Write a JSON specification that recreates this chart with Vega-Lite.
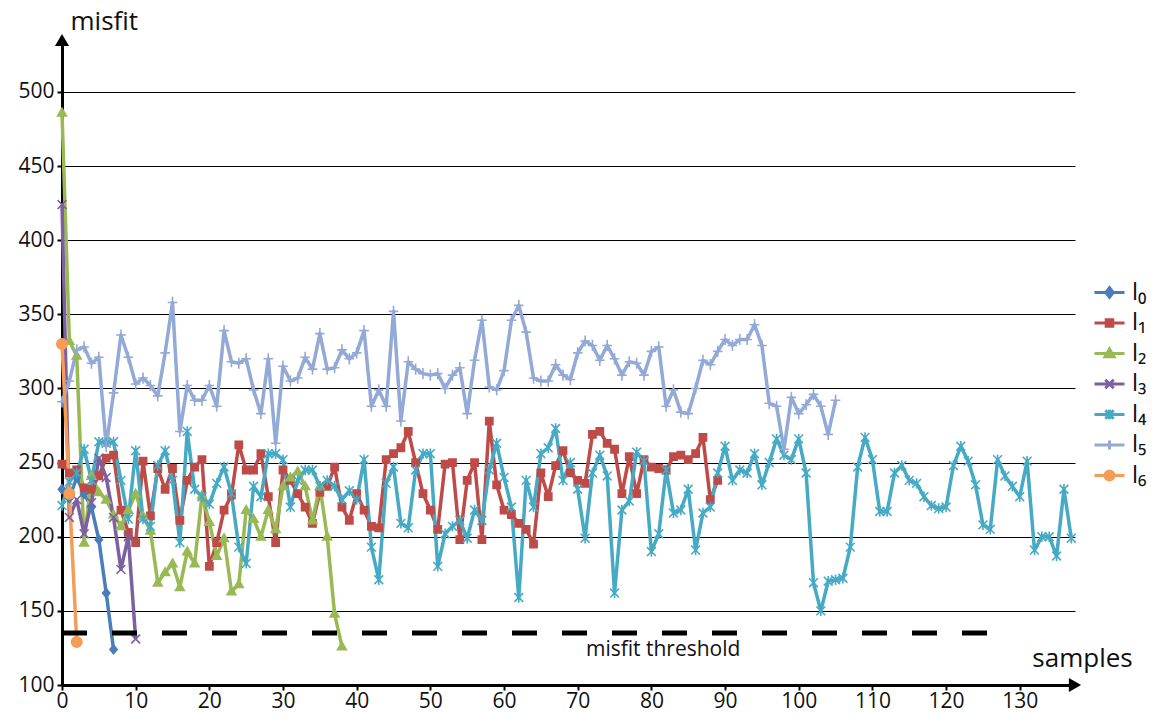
{
  "$schema": "https://vega.github.io/schema/vega-lite/v6.json",
  "width": 1013,
  "height": 645,
  "autosize": {"type": "none"},
  "padding": {"left": 62, "top": 40, "right": 78, "bottom": 28},
  "background": "white",
  "config": {
    "view": {"stroke": null},
    "font": "Open Sans",
    "axis": {"domainColor": "black", "tickColor": "black", "labelColor": "#111111", "titleColor": "#111111", "labelFont": "Open Sans", "titleFont": "Open Sans", "titleFontWeight": "normal"}
  },
  "data": {"values": [
    {"series":"l₀","sample":0,"misfit":232},{"series":"l₀","sample":1,"misfit":226},{"series":"l₀","sample":2,"misfit":240},{"series":"l₀","sample":3,"misfit":229},{"series":"l₀","sample":4,"misfit":220},{"series":"l₀","sample":5,"misfit":198},{"series":"l₀","sample":6,"misfit":162},{"series":"l₀","sample":7,"misfit":124},
    {"series":"l₁","sample":0,"misfit":249},{"series":"l₁","sample":1,"misfit":243},{"series":"l₁","sample":2,"misfit":245},{"series":"l₁","sample":3,"misfit":233},{"series":"l₁","sample":4,"misfit":232},{"series":"l₁","sample":5,"misfit":241},{"series":"l₁","sample":6,"misfit":253},{"series":"l₁","sample":7,"misfit":255},{"series":"l₁","sample":8,"misfit":218},{"series":"l₁","sample":9,"misfit":203},
    {"series":"l₁","sample":10,"misfit":196},{"series":"l₁","sample":11,"misfit":251},{"series":"l₁","sample":12,"misfit":214},{"series":"l₁","sample":13,"misfit":246},{"series":"l₁","sample":14,"misfit":232},{"series":"l₁","sample":15,"misfit":246},{"series":"l₁","sample":16,"misfit":211},{"series":"l₁","sample":17,"misfit":238},{"series":"l₁","sample":18,"misfit":247},{"series":"l₁","sample":19,"misfit":252},
    {"series":"l₁","sample":20,"misfit":180},{"series":"l₁","sample":21,"misfit":196},{"series":"l₁","sample":22,"misfit":218},{"series":"l₁","sample":23,"misfit":228},{"series":"l₁","sample":24,"misfit":262},{"series":"l₁","sample":25,"misfit":245},{"series":"l₁","sample":26,"misfit":245},{"series":"l₁","sample":27,"misfit":256},{"series":"l₁","sample":28,"misfit":227},{"series":"l₁","sample":29,"misfit":196},
    {"series":"l₁","sample":30,"misfit":245},{"series":"l₁","sample":31,"misfit":238},{"series":"l₁","sample":32,"misfit":229},{"series":"l₁","sample":33,"misfit":220},{"series":"l₁","sample":34,"misfit":209},{"series":"l₁","sample":35,"misfit":230},{"series":"l₁","sample":36,"misfit":234},{"series":"l₁","sample":37,"misfit":247},{"series":"l₁","sample":38,"misfit":220},{"series":"l₁","sample":39,"misfit":211},
    {"series":"l₁","sample":40,"misfit":229},{"series":"l₁","sample":41,"misfit":218},{"series":"l₁","sample":42,"misfit":207},{"series":"l₁","sample":43,"misfit":206},{"series":"l₁","sample":44,"misfit":252},{"series":"l₁","sample":45,"misfit":256},{"series":"l₁","sample":46,"misfit":260},{"series":"l₁","sample":47,"misfit":271},{"series":"l₁","sample":48,"misfit":250},{"series":"l₁","sample":49,"misfit":229},
    {"series":"l₁","sample":50,"misfit":218},{"series":"l₁","sample":51,"misfit":205},{"series":"l₁","sample":52,"misfit":249},{"series":"l₁","sample":53,"misfit":250},{"series":"l₁","sample":54,"misfit":198},{"series":"l₁","sample":55,"misfit":238},{"series":"l₁","sample":56,"misfit":250},{"series":"l₁","sample":57,"misfit":198},{"series":"l₁","sample":58,"misfit":278},{"series":"l₁","sample":59,"misfit":235},
    {"series":"l₁","sample":60,"misfit":218},{"series":"l₁","sample":61,"misfit":215},{"series":"l₁","sample":62,"misfit":209},{"series":"l₁","sample":63,"misfit":205},{"series":"l₁","sample":64,"misfit":195},{"series":"l₁","sample":65,"misfit":243},{"series":"l₁","sample":66,"misfit":227},{"series":"l₁","sample":67,"misfit":248},{"series":"l₁","sample":68,"misfit":258},{"series":"l₁","sample":69,"misfit":243},
    {"series":"l₁","sample":70,"misfit":238},{"series":"l₁","sample":71,"misfit":236},{"series":"l₁","sample":72,"misfit":269},{"series":"l₁","sample":73,"misfit":271},{"series":"l₁","sample":74,"misfit":263},{"series":"l₁","sample":75,"misfit":259},{"series":"l₁","sample":76,"misfit":229},{"series":"l₁","sample":77,"misfit":254},{"series":"l₁","sample":78,"misfit":229},{"series":"l₁","sample":79,"misfit":252},
    {"series":"l₁","sample":80,"misfit":247},{"series":"l₁","sample":81,"misfit":246},{"series":"l₁","sample":82,"misfit":245},{"series":"l₁","sample":83,"misfit":254},{"series":"l₁","sample":84,"misfit":255},{"series":"l₁","sample":85,"misfit":252},{"series":"l₁","sample":86,"misfit":256},{"series":"l₁","sample":87,"misfit":267},{"series":"l₁","sample":88,"misfit":225},{"series":"l₁","sample":89,"misfit":238},
    {"series":"l₂","sample":0,"misfit":486},{"series":"l₂","sample":1,"misfit":332},{"series":"l₂","sample":2,"misfit":322},{"series":"l₂","sample":3,"misfit":196},{"series":"l₂","sample":4,"misfit":241},{"series":"l₂","sample":5,"misfit":230},{"series":"l₂","sample":6,"misfit":225},{"series":"l₂","sample":7,"misfit":215},{"series":"l₂","sample":8,"misfit":207},{"series":"l₂","sample":9,"misfit":218},
    {"series":"l₂","sample":10,"misfit":229},{"series":"l₂","sample":11,"misfit":214},{"series":"l₂","sample":12,"misfit":204},{"series":"l₂","sample":13,"misfit":169},{"series":"l₂","sample":14,"misfit":176},{"series":"l₂","sample":15,"misfit":182},{"series":"l₂","sample":16,"misfit":166},{"series":"l₂","sample":17,"misfit":190},{"series":"l₂","sample":18,"misfit":182},{"series":"l₂","sample":19,"misfit":228},
    {"series":"l₂","sample":20,"misfit":210},{"series":"l₂","sample":21,"misfit":187},{"series":"l₂","sample":22,"misfit":199},{"series":"l₂","sample":23,"misfit":163},{"series":"l₂","sample":24,"misfit":168},{"series":"l₂","sample":25,"misfit":218},{"series":"l₂","sample":26,"misfit":212},{"series":"l₂","sample":27,"misfit":200},{"series":"l₂","sample":28,"misfit":218},{"series":"l₂","sample":29,"misfit":205},
    {"series":"l₂","sample":30,"misfit":234},{"series":"l₂","sample":31,"misfit":240},{"series":"l₂","sample":32,"misfit":244},{"series":"l₂","sample":33,"misfit":234},{"series":"l₂","sample":34,"misfit":211},{"series":"l₂","sample":35,"misfit":234},{"series":"l₂","sample":36,"misfit":200},{"series":"l₂","sample":37,"misfit":148},{"series":"l₂","sample":38,"misfit":126},
    {"series":"l₃","sample":0,"misfit":424},{"series":"l₃","sample":1,"misfit":213},{"series":"l₃","sample":2,"misfit":225},{"series":"l₃","sample":3,"misfit":202},{"series":"l₃","sample":4,"misfit":223},{"series":"l₃","sample":5,"misfit":253},{"series":"l₃","sample":6,"misfit":240},{"series":"l₃","sample":7,"misfit":213},{"series":"l₃","sample":8,"misfit":178},{"series":"l₃","sample":9,"misfit":200},{"series":"l₃","sample":10,"misfit":131},
    {"series":"l₄","sample":0,"misfit":221},{"series":"l₄","sample":1,"misfit":237},{"series":"l₄","sample":2,"misfit":243},{"series":"l₄","sample":3,"misfit":259},{"series":"l₄","sample":4,"misfit":238},{"series":"l₄","sample":5,"misfit":264},{"series":"l₄","sample":6,"misfit":263},{"series":"l₄","sample":7,"misfit":264},{"series":"l₄","sample":8,"misfit":238},{"series":"l₄","sample":9,"misfit":212},
    {"series":"l₄","sample":10,"misfit":258},{"series":"l₄","sample":11,"misfit":212},{"series":"l₄","sample":12,"misfit":207},{"series":"l₄","sample":13,"misfit":248},{"series":"l₄","sample":14,"misfit":258},{"series":"l₄","sample":15,"misfit":238},{"series":"l₄","sample":16,"misfit":196},{"series":"l₄","sample":17,"misfit":271},{"series":"l₄","sample":18,"misfit":232},{"series":"l₄","sample":19,"misfit":227},
    {"series":"l₄","sample":20,"misfit":222},{"series":"l₄","sample":21,"misfit":236},{"series":"l₄","sample":22,"misfit":247},{"series":"l₄","sample":23,"misfit":229},{"series":"l₄","sample":24,"misfit":193},{"series":"l₄","sample":25,"misfit":182},{"series":"l₄","sample":26,"misfit":234},{"series":"l₄","sample":27,"misfit":227},{"series":"l₄","sample":28,"misfit":256},{"series":"l₄","sample":29,"misfit":256},
    {"series":"l₄","sample":30,"misfit":252},{"series":"l₄","sample":31,"misfit":220},{"series":"l₄","sample":32,"misfit":238},{"series":"l₄","sample":33,"misfit":245},{"series":"l₄","sample":34,"misfit":245},{"series":"l₄","sample":35,"misfit":234},{"series":"l₄","sample":36,"misfit":238},{"series":"l₄","sample":37,"misfit":234},{"series":"l₄","sample":38,"misfit":225},{"series":"l₄","sample":39,"misfit":231},
    {"series":"l₄","sample":40,"misfit":225},{"series":"l₄","sample":41,"misfit":252},{"series":"l₄","sample":42,"misfit":193},{"series":"l₄","sample":43,"misfit":171},{"series":"l₄","sample":44,"misfit":236},{"series":"l₄","sample":45,"misfit":247},{"series":"l₄","sample":46,"misfit":209},{"series":"l₄","sample":47,"misfit":206},{"series":"l₄","sample":48,"misfit":245},{"series":"l₄","sample":49,"misfit":256},
    {"series":"l₄","sample":50,"misfit":256},{"series":"l₄","sample":51,"misfit":180},{"series":"l₄","sample":52,"misfit":202},{"series":"l₄","sample":53,"misfit":207},{"series":"l₄","sample":54,"misfit":211},{"series":"l₄","sample":55,"misfit":199},{"series":"l₄","sample":56,"misfit":218},{"series":"l₄","sample":57,"misfit":211},{"series":"l₄","sample":58,"misfit":245},{"series":"l₄","sample":59,"misfit":263},
    {"series":"l₄","sample":60,"misfit":240},{"series":"l₄","sample":61,"misfit":220},{"series":"l₄","sample":62,"misfit":159},{"series":"l₄","sample":63,"misfit":238},{"series":"l₄","sample":64,"misfit":220},{"series":"l₄","sample":65,"misfit":256},{"series":"l₄","sample":66,"misfit":260},{"series":"l₄","sample":67,"misfit":273},{"series":"l₄","sample":68,"misfit":238},{"series":"l₄","sample":69,"misfit":250},
    {"series":"l₄","sample":70,"misfit":232},{"series":"l₄","sample":71,"misfit":199},{"series":"l₄","sample":72,"misfit":243},{"series":"l₄","sample":73,"misfit":255},{"series":"l₄","sample":74,"misfit":241},{"series":"l₄","sample":75,"misfit":162},{"series":"l₄","sample":76,"misfit":218},{"series":"l₄","sample":77,"misfit":224},{"series":"l₄","sample":78,"misfit":257},{"series":"l₄","sample":79,"misfit":251},
    {"series":"l₄","sample":80,"misfit":190},{"series":"l₄","sample":81,"misfit":202},{"series":"l₄","sample":82,"misfit":245},{"series":"l₄","sample":83,"misfit":216},{"series":"l₄","sample":84,"misfit":218},{"series":"l₄","sample":85,"misfit":232},{"series":"l₄","sample":86,"misfit":191},{"series":"l₄","sample":87,"misfit":216},{"series":"l₄","sample":88,"misfit":220},{"series":"l₄","sample":89,"misfit":243},
    {"series":"l₄","sample":90,"misfit":261},{"series":"l₄","sample":91,"misfit":238},{"series":"l₄","sample":92,"misfit":245},{"series":"l₄","sample":93,"misfit":243},{"series":"l₄","sample":94,"misfit":256},{"series":"l₄","sample":95,"misfit":235},{"series":"l₄","sample":96,"misfit":250},{"series":"l₄","sample":97,"misfit":266},{"series":"l₄","sample":98,"misfit":255},{"series":"l₄","sample":99,"misfit":252},
    {"series":"l₄","sample":100,"misfit":266},{"series":"l₄","sample":101,"misfit":243},{"series":"l₄","sample":102,"misfit":169},{"series":"l₄","sample":103,"misfit":150},{"series":"l₄","sample":104,"misfit":170},{"series":"l₄","sample":105,"misfit":171},{"series":"l₄","sample":106,"misfit":172},{"series":"l₄","sample":107,"misfit":193},{"series":"l₄","sample":108,"misfit":247},{"series":"l₄","sample":109,"misfit":267},
    {"series":"l₄","sample":110,"misfit":252},{"series":"l₄","sample":111,"misfit":217},{"series":"l₄","sample":112,"misfit":217},{"series":"l₄","sample":113,"misfit":243},{"series":"l₄","sample":114,"misfit":248},{"series":"l₄","sample":115,"misfit":238},{"series":"l₄","sample":116,"misfit":236},{"series":"l₄","sample":117,"misfit":227},{"series":"l₄","sample":118,"misfit":221},{"series":"l₄","sample":119,"misfit":219},
    {"series":"l₄","sample":120,"misfit":220},{"series":"l₄","sample":121,"misfit":248},{"series":"l₄","sample":122,"misfit":261},{"series":"l₄","sample":123,"misfit":251},{"series":"l₄","sample":124,"misfit":235},{"series":"l₄","sample":125,"misfit":208},{"series":"l₄","sample":126,"misfit":205},{"series":"l₄","sample":127,"misfit":252},{"series":"l₄","sample":128,"misfit":241},{"series":"l₄","sample":129,"misfit":234},
    {"series":"l₄","sample":130,"misfit":227},{"series":"l₄","sample":131,"misfit":251},{"series":"l₄","sample":132,"misfit":191},{"series":"l₄","sample":133,"misfit":200},{"series":"l₄","sample":134,"misfit":200},{"series":"l₄","sample":135,"misfit":187},{"series":"l₄","sample":136,"misfit":232},{"series":"l₄","sample":137,"misfit":199},
    {"series":"l₅","sample":0,"misfit":291},{"series":"l₅","sample":1,"misfit":305},{"series":"l₅","sample":2,"misfit":326},{"series":"l₅","sample":3,"misfit":328},{"series":"l₅","sample":4,"misfit":317},{"series":"l₅","sample":5,"misfit":321},{"series":"l₅","sample":6,"misfit":261},{"series":"l₅","sample":7,"misfit":297},{"series":"l₅","sample":8,"misfit":336},{"series":"l₅","sample":9,"misfit":321},
    {"series":"l₅","sample":10,"misfit":303},{"series":"l₅","sample":11,"misfit":307},{"series":"l₅","sample":12,"misfit":302},{"series":"l₅","sample":13,"misfit":295},{"series":"l₅","sample":14,"misfit":324},{"series":"l₅","sample":15,"misfit":358},{"series":"l₅","sample":16,"misfit":271},{"series":"l₅","sample":17,"misfit":302},{"series":"l₅","sample":18,"misfit":292},{"series":"l₅","sample":19,"misfit":292},
    {"series":"l₅","sample":20,"misfit":302},{"series":"l₅","sample":21,"misfit":288},{"series":"l₅","sample":22,"misfit":339},{"series":"l₅","sample":23,"misfit":318},{"series":"l₅","sample":24,"misfit":317},{"series":"l₅","sample":25,"misfit":320},{"series":"l₅","sample":26,"misfit":299},{"series":"l₅","sample":27,"misfit":283},{"series":"l₅","sample":28,"misfit":320},{"series":"l₅","sample":29,"misfit":263},
    {"series":"l₅","sample":30,"misfit":315},{"series":"l₅","sample":31,"misfit":305},{"series":"l₅","sample":32,"misfit":307},{"series":"l₅","sample":33,"misfit":321},{"series":"l₅","sample":34,"misfit":313},{"series":"l₅","sample":35,"misfit":337},{"series":"l₅","sample":36,"misfit":313},{"series":"l₅","sample":37,"misfit":314},{"series":"l₅","sample":38,"misfit":326},{"series":"l₅","sample":39,"misfit":320},
    {"series":"l₅","sample":40,"misfit":324},{"series":"l₅","sample":41,"misfit":339},{"series":"l₅","sample":42,"misfit":288},{"series":"l₅","sample":43,"misfit":299},{"series":"l₅","sample":44,"misfit":288},{"series":"l₅","sample":45,"misfit":352},{"series":"l₅","sample":46,"misfit":278},{"series":"l₅","sample":47,"misfit":318},{"series":"l₅","sample":48,"misfit":313},{"series":"l₅","sample":49,"misfit":310},
    {"series":"l₅","sample":50,"misfit":309},{"series":"l₅","sample":51,"misfit":310},{"series":"l₅","sample":52,"misfit":300},{"series":"l₅","sample":53,"misfit":309},{"series":"l₅","sample":54,"misfit":314},{"series":"l₅","sample":55,"misfit":283},{"series":"l₅","sample":56,"misfit":319},{"series":"l₅","sample":57,"misfit":346},{"series":"l₅","sample":58,"misfit":301},{"series":"l₅","sample":59,"misfit":299},
    {"series":"l₅","sample":60,"misfit":312},{"series":"l₅","sample":61,"misfit":346},{"series":"l₅","sample":62,"misfit":356},{"series":"l₅","sample":63,"misfit":338},{"series":"l₅","sample":64,"misfit":307},{"series":"l₅","sample":65,"misfit":305},{"series":"l₅","sample":66,"misfit":305},{"series":"l₅","sample":67,"misfit":316},{"series":"l₅","sample":68,"misfit":309},{"series":"l₅","sample":69,"misfit":306},
    {"series":"l₅","sample":70,"misfit":324},{"series":"l₅","sample":71,"misfit":332},{"series":"l₅","sample":72,"misfit":329},{"series":"l₅","sample":73,"misfit":319},{"series":"l₅","sample":74,"misfit":329},{"series":"l₅","sample":75,"misfit":320},{"series":"l₅","sample":76,"misfit":309},{"series":"l₅","sample":77,"misfit":318},{"series":"l₅","sample":78,"misfit":317},{"series":"l₅","sample":79,"misfit":309},
    {"series":"l₅","sample":80,"misfit":325},{"series":"l₅","sample":81,"misfit":328},{"series":"l₅","sample":82,"misfit":288},{"series":"l₅","sample":83,"misfit":299},{"series":"l₅","sample":84,"misfit":284},{"series":"l₅","sample":85,"misfit":283},{"series":"l₅","sample":86,"misfit":300},{"series":"l₅","sample":87,"misfit":319},{"series":"l₅","sample":88,"misfit":316},{"series":"l₅","sample":89,"misfit":325},
    {"series":"l₅","sample":90,"misfit":333},{"series":"l₅","sample":91,"misfit":329},{"series":"l₅","sample":92,"misfit":333},{"series":"l₅","sample":93,"misfit":333},{"series":"l₅","sample":94,"misfit":343},{"series":"l₅","sample":95,"misfit":329},{"series":"l₅","sample":96,"misfit":290},{"series":"l₅","sample":97,"misfit":288},{"series":"l₅","sample":98,"misfit":259},{"series":"l₅","sample":99,"misfit":294},
    {"series":"l₅","sample":100,"misfit":283},{"series":"l₅","sample":101,"misfit":289},{"series":"l₅","sample":102,"misfit":296},{"series":"l₅","sample":103,"misfit":288},{"series":"l₅","sample":104,"misfit":269},{"series":"l₅","sample":105,"misfit":292},
    {"series":"l₆","sample":0,"misfit":330},{"series":"l₆","sample":1,"misfit":229},{"series":"l₆","sample":2,"misfit":129}
  ]},
  "layer": [
    {
      "mark": {"type": "line", "strokeWidth": 3.5, "strokeJoin": "round"},
      "encoding": {
        "x": {"field": "sample", "type": "quantitative", "scale": {"domain": [0, 137.5], "nice": false, "zero": false},
          "axis": {"title": "samples", "titleFontSize": 26, "titleAlign": "center", "titleBaseline": "alphabetic", "titleX": 1020, "titleY": -19, "titleAnchor": null,
            "values": [0,10,20,30,40,50,60,70,80,90,100,110,120,130], "domainWidth": 3, "tickSize": 5, "tickWidth": 2, "labelFontSize": 21, "labelPadding": 0, "grid": false, "labelFlush": false}},
        "y": {"field": "misfit", "type": "quantitative", "scale": {"domain": [100, 535], "nice": false, "zero": false},
          "axis": {"title": "misfit", "titleFontSize": 26, "titleAngle": 0, "titleAlign": "left", "titleBaseline": "alphabetic", "titleX": 8, "titleY": -11, "titleAnchor": null,
            "values": [100,150,200,250,300,350,400,450,500], "domainWidth": 3, "tickSize": 5, "tickWidth": 2, "labelFontSize": 21, "labelPadding": 3,
            "grid": true, "gridColor": "black", "gridWidth": 1, "gridOpacity": 1}},
        "color": {"field": "series", "type": "nominal",
          "scale": {"domain": ["l₀","l₁","l₂","l₃","l₄","l₅","l₆"], "range": ["#4A7EBB","#BE4B48","#98B954","#7D60A0","#46AAC5","#93A9D6","#F59D56"]},
          "legend": {"orient": "none", "legendX": 1031, "legendY": 236, "title": null, "padding": 0, "symbolSize": 900, "rowPadding": 1.5,
            "labelFontSize": 24, "labelOffset": 6, "labelColor": "#111111", "labelFont": "Open Sans", "symbolStrokeWidth": 3,
            "encode": {"symbols": {"update": {
              "shape": {"signal": "['M-1,0H1M0,-0.32L0.25,0L0,0.32L-0.25,0Z','M-1,0H1M-0.22,-0.22H0.22V0.22H-0.22Z','M-1,0H1M0,-0.3L0.3,0.22H-0.3Z','M-1,0H1M-0.28,-0.28L0.28,0.28M-0.28,0.28L0.28,-0.28','M-1,0H1M-0.28,-0.28L0.28,0.28M-0.28,0.28L0.28,-0.28M0,-0.32V0.32','M-1,0H1M0,-0.3V0.3','M-1,0H1M-0.3,0A0.3,0.3 0 1,0 0.3,0A0.3,0.3 0 1,0 -0.3,0Z'][datum.index]"},
              "fill": {"signal": "scale('color', datum.value)"},
              "stroke": {"signal": "scale('color', datum.value)"},
              "strokeWidth": {"value": 3},
              "opacity": {"value": 1}
            }}}}
        }
      }
    },
    {
      "mark": {"type": "point", "filled": true, "strokeWidth": 1.6, "opacity": 1, "size": 64},
      "encoding": {
        "x": {"field": "sample", "type": "quantitative"},
        "y": {"field": "misfit", "type": "quantitative"},
        "fill": {"field": "series", "type": "nominal", "legend": null,
          "scale": {"domain": ["l₆","l₅","l₄","l₃","l₂","l₁","l₀"], "range": ["#F59D56","#93A9D6","#46AAC5","#7D60A0","#98B954","#BE4B48","#4A7EBB"]}},
        "stroke": {"field": "series", "type": "nominal", "legend": null,
          "scale": {"domain": ["l₅","l₆","l₄","l₃","l₂","l₁","l₀"], "range": ["#93A9D6","#F59D56","#46AAC5","#7D60A0","#98B954","#BE4B48","#4A7EBB"]}},
        "shape": {"field": "series", "type": "nominal", "legend": null,
          "scale": {"domain": ["l₆","l₄","l₅","l₃","l₂","l₁","l₀"], "range": [
            "M-1.3,0A1.3,1.3 0 1,0 1.3,0A1.3,1.3 0 1,0 -1.3,0Z",
            "M-1.1,-1.1L1.1,1.1M-1.1,1.1L1.1,-1.1M0,-1.3V1.3",
            "M-1.2,0H1.2M0,-1.4V1.4",
            "M-1.1,-1.1L1.1,1.1M-1.1,1.1L1.1,-1.1",
            "M0,-1.1L1.1,0.8H-1.1Z",
            "M-0.9,-0.9H0.9V0.9H-0.9Z",
            "M0,-1.1L0.9,0L0,1.1L-0.9,0Z"]}}
      }
    },
    {
      "data": {"values": [{}]},
      "mark": {"type": "rule", "color": "black", "strokeWidth": 5, "strokeDash": [25, 25]},
      "encoding": {"x": {"datum": 0}, "x2": {"datum": 126}, "y": {"datum": 135}}
    },
    {
      "data": {"values": [{}]},
      "mark": {"type": "text", "text": "misfit threshold", "font": "Open Sans", "fontSize": 21, "color": "#111111", "align": "center", "baseline": "middle"},
      "encoding": {"x": {"datum": 81.6}, "y": {"datum": 123.5}}
    },
    {
      "data": {"values": [{}]},
      "mark": {"type": "point", "shape": "triangle-up", "filled": true, "color": "black", "opacity": 1, "size": 200},
      "encoding": {"x": {"datum": 0}, "y": {"datum": 535}}
    },
    {
      "data": {"values": [{}]},
      "mark": {"type": "point", "shape": "triangle-right", "filled": true, "color": "black", "opacity": 1, "size": 200},
      "encoding": {"x": {"datum": 137.5}, "y": {"datum": 100}}
    }
  ]
}
